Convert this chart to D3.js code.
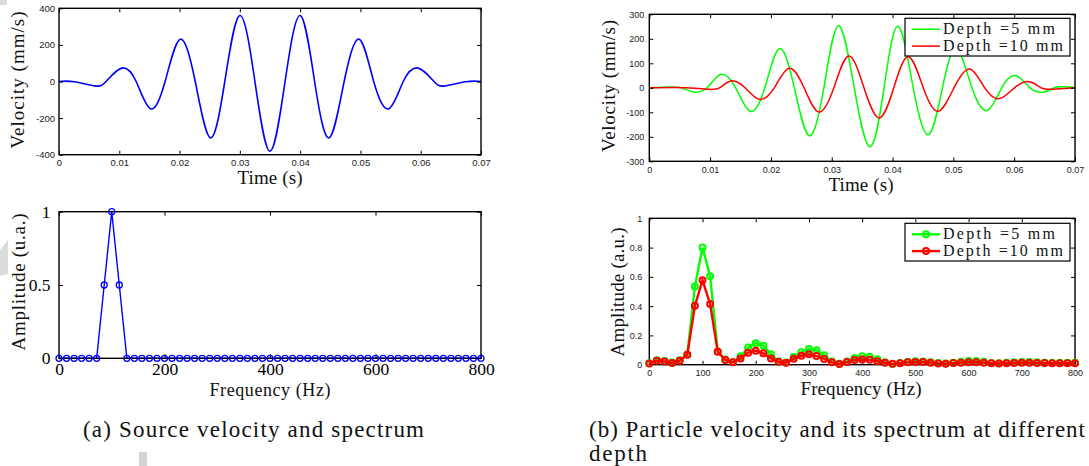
<!DOCTYPE html>
<html><head><meta charset="utf-8">
<script src="https://cdn.jsdelivr.net/npm/d3@7"></script>
<style>body{margin:0;background:#fff}svg{display:block}</style>
</head><body>
<svg id="c" width="1089" height="466"></svg>
<script>
// ---------- data ----------
// (a) source velocity: extrema and zero crossings
const srcTime = [0, 0.0025, 0.006, 0.0078, 0.0104, 0.0128, 0.0152, 0.0176, 0.0201, 0.0226, 0.0251, 0.0275, 0.0300, 0.0325, 0.0350, 0.0375, 0.0400, 0.0424, 0.0448, 0.0473, 0.0498, 0.0522, 0.0547, 0.0571, 0.0596, 0.0622, 0.0640, 0.0675, 0.0700];
const srcVel  = [0, -1, -24, 0, 73, 0, -149, 0, 231, 0, -308, 0, 361, 0, -381, 0, 361, 0, -308, 0, 231, 0, -149, 0, 73, 0, -24, -1, 0];

// (b) particle velocity at depth 5 mm
const vel5Time = [0, 0.003, 0.0052, 0.0072, 0.0095, 0.0118, 0.0142, 0.0166, 0.0190, 0.0214, 0.02385, 0.0263, 0.0287, 0.0311, 0.0337, 0.0363, 0.0386, 0.0409, 0.0434, 0.0459, 0.0482, 0.0505, 0.05305, 0.0556, 0.05795, 0.0603, 0.0626, 0.0649, 0.0666, 0.0683, 0.0700];
const vel5     = [0, 3, 0, -17, 0, 55, 0, -96, 0, 160, 0, -196, 0, 253, 0, -241, 0, 251, 0, -191, 0, 160, 0, -92, 0, 49, 0, -17, 0, 4, 2];
// (b) particle velocity at depth 10 mm
const vel10Time = [0, 0.0045, 0.0075, 0.0097, 0.01155, 0.0134, 0.01575, 0.0181, 0.02055, 0.0230, 0.02545, 0.0279, 0.03035, 0.0328, 0.0353, 0.0378, 0.0402, 0.0426, 0.04505, 0.0475, 0.0501, 0.0527, 0.05515, 0.0576, 0.06005, 0.0625, 0.06445, 0.0664, 0.0700];
const vel10     = [0, 1, -2, -6, 0, 28, 0, -47, 0, 80, 0, -99, 0, 130, 0, -123, 0, 127, 0, -96, 0, 77, 0, -44, 0, 25, 0, -6, 0];

// spectra frequency grid (Hz)
const freq = [0, 14.3, 28.6, 42.9, 57.1, 71.4, 85.7, 100, 114.3, 128.6, 142.9, 157.1, 171.4, 185.7, 200, 214.3, 228.6, 242.9, 257.1, 271.4, 285.7, 300, 314.3, 328.6, 342.9, 357.1, 371.4, 385.7, 400, 414.3, 428.6, 442.9, 457.1, 471.4, 485.7, 500, 514.3, 528.6, 542.9, 557.1, 571.4, 585.7, 600, 614.3, 628.6, 642.9, 657.1, 671.4, 685.7, 700, 714.3, 728.6, 742.9, 757.1, 771.4, 785.7, 800];
const srcAmp = [0, 0, 0, 0, 0, 0, 0.5, 1, 0.5, 0, 0, 0, 0, 0, 0, 0, 0, 0, 0, 0, 0, 0, 0, 0, 0, 0, 0, 0, 0, 0, 0, 0, 0, 0, 0, 0, 0, 0, 0, 0, 0, 0, 0, 0, 0, 0, 0, 0, 0, 0, 0, 0, 0, 0, 0, 0, 0];
const amp5  = [0.01, 0.03, 0.025, 0.015, 0.03, 0.07, 0.535, 0.80, 0.605, 0.09, 0.035, 0.018, 0.057, 0.117, 0.147, 0.13, 0.072, 0.022, 0.015, 0.053, 0.085, 0.107, 0.098, 0.065, 0.022, 0.006, 0.022, 0.045, 0.057, 0.055, 0.037, 0.016, 0.004, 0.012, 0.02, 0.024, 0.022, 0.017, 0.011, 0.008, 0.013, 0.02, 0.026, 0.026, 0.02, 0.012, 0.01, 0.013, 0.016, 0.018, 0.018, 0.016, 0.014, 0.013, 0.014, 0.014, 0.013];
const amp10 = [0.008, 0.027, 0.022, 0.012, 0.027, 0.068, 0.403, 0.576, 0.415, 0.088, 0.032, 0.016, 0.043, 0.082, 0.096, 0.078, 0.043, 0.02, 0.014, 0.041, 0.061, 0.071, 0.059, 0.039, 0.016, 0.005, 0.018, 0.032, 0.036, 0.033, 0.024, 0.013, 0.006, 0.01, 0.016, 0.019, 0.018, 0.014, 0.009, 0.007, 0.011, 0.014, 0.017, 0.017, 0.014, 0.01, 0.008, 0.01, 0.012, 0.013, 0.013, 0.012, 0.011, 0.01, 0.01, 0.01, 0.01];

// tick values
const timeTicks = [0, 0.01, 0.02, 0.03, 0.04, 0.05, 0.06, 0.07];
const srcVelTicks = [-400, -200, 0, 200, 400];
const partVelTicks = [-300, -200, -100, 0, 100, 200, 300];
const srcFreqTicks = [0, 200, 400, 600, 800];
const srcAmpTicks = [0, 0.5, 1];
const partFreqTicks = [0, 100, 200, 300, 400, 500, 600, 700, 800];
const partAmpTicks = [0, 0.2, 0.4, 0.6, 0.8, 1];

const seriesNames = ["Depth =5 mm", "Depth =10 mm"];
const captions = ["(a) Source velocity and spectrum", "(b) Particle velocity and its spectrum at different", "depth"];

// ---------- drawing ----------
const svg = d3.select("#c");
const SERIF = "Liberation Serif, DejaVu Serif, serif";
const SANS = "Liberation Sans, Arial, Helvetica, sans-serif";
const BLUE = "#0000ff", GREEN = "#00ff00", RED = "#ff0000";

// page artefacts (light grey marks in the scan)
svg.append("rect").attr("x", 0).attr("y", 0).attr("width", 7).attr("height", 5).attr("fill", "#dcdcdc");
svg.append("polygon").attr("points", "0,250 8,240 8,274 0,276").attr("fill", "#dcdcdc");
svg.append("rect").attr("x", 139).attr("y", 452).attr("width", 8).attr("height", 14).attr("fill", "#d4d4d4");

function makeScales(p) {
  p.x = d3.scaleLinear().domain(p.xDomain).range([p.x0, p.x1]);
  p.y = d3.scaleLinear().domain(p.yDomain).range([p.y1, p.y0]);
  return p;
}

function drawAxes(p) {
  const g = svg.append("g");
  const fmt = d => String(d);
  g.append("g").attr("transform", `translate(0,${p.y1})`)
    .call(d3.axisBottom(p.x).tickValues(p.xTicks).tickFormat(fmt).tickSizeInner(-4).tickSizeOuter(0).tickPadding(p.xPad));
  g.append("g").attr("transform", `translate(0,${p.y0})`)
    .call(d3.axisTop(p.x).tickValues(p.xTicks).tickFormat("").tickSizeInner(-4).tickSizeOuter(0));
  g.append("g").attr("transform", `translate(${p.x0},0)`)
    .call(d3.axisLeft(p.y).tickValues(p.yTicks).tickFormat(fmt).tickSizeInner(-4).tickSizeOuter(0).tickPadding(p.yPad));
  g.append("g").attr("transform", `translate(${p.x1},0)`)
    .call(d3.axisRight(p.y).tickValues(p.yTicks).tickFormat("").tickSizeInner(-4).tickSizeOuter(0));
  g.selectAll(".domain").remove();
  g.selectAll("g").attr("font-family", p.font).attr("font-size", p.fs);
  g.selectAll(".tick text").attr("fill", p.tickColor || "#111");
  g.selectAll(".tick line").attr("stroke", "#000").attr("stroke-width", 1);
  g.append("rect").attr("x", p.x0).attr("y", p.y0).attr("width", p.x1 - p.x0).attr("height", p.y1 - p.y0)
    .attr("fill", "none").attr("stroke", "#000").attr("stroke-width", 1.4);
}

function label(text, x, y, len, size, rotate) {
  const t = svg.append("text").text(text).attr("font-family", SERIF).attr("font-size", size)
    .attr("fill", "#111").attr("text-anchor", "middle")
    .attr("textLength", len).attr("lengthAdjust", "spacing");
  if (rotate) t.attr("transform", `translate(${x},${y}) rotate(-90)`);
  else t.attr("x", x).attr("y", y);
  return t;
}

function linePath(p, xs, ys, curve) {
  return d3.line().x((d, i) => p.x(xs[i])).y((d, i) => p.y(ys[i])).curve(curve)(ys);
}

// ----- (a) top: source velocity -----
const pA1 = makeScales({x0: 59, x1: 481, y0: 8.3, y1: 154.7, xDomain: [0, 0.07], yDomain: [-400, 400],
  xTicks: timeTicks, yTicks: srcVelTicks, font: SANS, fs: 9.5, xPad: 5, yPad: 4, tickColor: "#222"});
svg.append("path").attr("d", linePath(pA1, srcTime, srcVel, d3.curveNatural))
  .attr("fill", "none").attr("stroke", BLUE).attr("stroke-width", 1.6);
drawAxes(pA1);
label("Velocity (mm/s)", 24, 80, 137, 19, true);
label("Time (s)", 270, 184, 65, 19, false);

// ----- (a) bottom: source spectrum -----
const pA2 = makeScales({x0: 59, x1: 481, y0: 211.7, y1: 358.3, xDomain: [0, 800], yDomain: [0, 1],
  xTicks: srcFreqTicks, yTicks: srcAmpTicks, font: SERIF, fs: 17.5, xPad: 4.5, yPad: 8.5, tickColor: "#000"});
svg.append("path").attr("d", linePath(pA2, freq, srcAmp, d3.curveLinear))
  .attr("fill", "none").attr("stroke", BLUE).attr("stroke-width", 1.4);
drawAxes(pA2);
svg.append("g").selectAll("circle").data(srcAmp).join("circle")
  .attr("cx", (d, i) => pA2.x(freq[i])).attr("cy", d => pA2.y(d)).attr("r", 3)
  .attr("fill", "none").attr("stroke", BLUE).attr("stroke-width", 1.3);
label("Amplitude (u.a.)", 25, 282, 137, 19, true);
label("Frequency (Hz)", 270, 396, 121, 18, false);

// ----- (b) top: particle velocity -----
const pB1 = makeScales({x0: 649.3, x1: 1075, y0: 14.3, y1: 161.3, xDomain: [0, 0.07], yDomain: [-300, 300],
  xTicks: timeTicks, yTicks: partVelTicks, font: SANS, fs: 9, xPad: 5.5, yPad: 5, tickColor: "#222"});
svg.append("path").attr("d", linePath(pB1, vel5Time, vel5, d3.curveNatural))
  .attr("fill", "none").attr("stroke", GREEN).attr("stroke-width", 1.5);
svg.append("path").attr("d", linePath(pB1, vel10Time, vel10, d3.curveNatural))
  .attr("fill", "none").attr("stroke", RED).attr("stroke-width", 1.5);
drawAxes(pB1);
label("Velocity (mm/s)", 615, 86, 132, 19, true);
label("Time (s)", 861, 191, 65, 19, false);

// ----- (b) bottom: particle spectrum -----
const pB2 = makeScales({x0: 649.3, x1: 1075, y0: 218.3, y1: 364.7, xDomain: [0, 800], yDomain: [0, 1],
  xTicks: partFreqTicks, yTicks: partAmpTicks, font: SANS, fs: 9, xPad: 5, yPad: 7, tickColor: "#222"});
const specSeries = [{vals: amp5, col: GREEN}, {vals: amp10, col: RED}];
drawAxes(pB2);
specSeries.forEach(s => {
  svg.append("path").attr("d", linePath(pB2, freq, s.vals, d3.curveLinear))
    .attr("fill", "none").attr("stroke", s.col).attr("stroke-width", 2.4);
  svg.append("g").selectAll("circle").data(s.vals).join("circle")
    .attr("cx", (d, i) => pB2.x(freq[i])).attr("cy", d => pB2.y(d)).attr("r", 3)
    .attr("fill", "none").attr("stroke", s.col).attr("stroke-width", 2);
});
label("Amplitude (a.u.)", 624, 292, 129, 19, true);
label("Frequency (Hz)", 861, 395, 121, 19, false);

// ----- legends -----
function legend(x0, y0, w, h, rows, withMarker) {
  const g = svg.append("g");
  g.append("rect").attr("x", x0).attr("y", y0).attr("width", w).attr("height", h)
    .attr("fill", "#fff").attr("stroke", "#000").attr("stroke-width", 1.2);
  rows.forEach((r, i) => {
    const yy = y0 + 11 + i * 16.8;
    g.append("line").attr("x1", x0 + 7).attr("x2", x0 + 35).attr("y1", yy).attr("y2", yy)
      .attr("stroke", r.col).attr("stroke-width", withMarker ? 2.4 : 1.5);
    if (withMarker) g.append("circle").attr("cx", x0 + 21).attr("cy", yy).attr("r", 3)
      .attr("fill", "none").attr("stroke", r.col).attr("stroke-width", 2);
    g.append("text").text(r.name).attr("x", x0 + 38).attr("y", yy + 5)
      .attr("font-family", SERIF).attr("font-size", 16).attr("fill", "#111")
      .attr("textLength", i === 0 ? 112 : 120).attr("lengthAdjust", "spacing");
  });
}
const legRows = [{name: seriesNames[0], col: GREEN}, {name: seriesNames[1], col: RED}];
legend(905, 18.3, 165, 37.7, legRows, false);
legend(905, 223.3, 165, 37.7, legRows, true);

// ----- captions -----
function caption(text, x, y, len) {
  svg.append("text").text(text).attr("x", x).attr("y", y).attr("font-family", SERIF).attr("font-size", 23)
    .attr("fill", "#111").attr("textLength", len).attr("lengthAdjust", "spacing");
}
caption(captions[0], 83, 437, 341);
caption(captions[1], 589, 437, 496);
caption(captions[2], 589, 461, 58);
</script>
</body></html>
